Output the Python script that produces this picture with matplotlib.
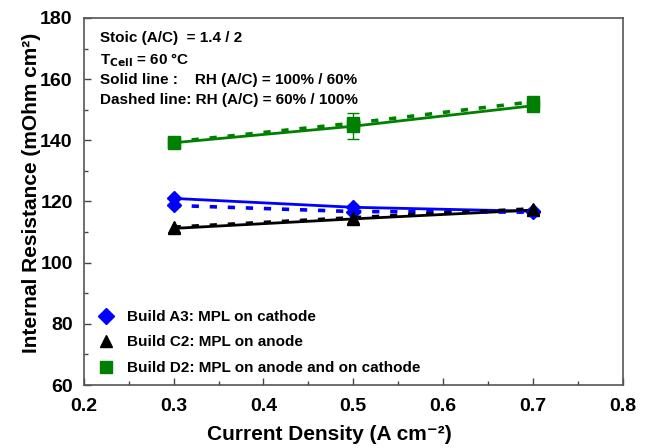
import matplotlib
matplotlib.use("Agg")
import matplotlib.pyplot as plt
from matplotlib.ticker import MultipleLocator
from matplotlib.lines import Line2D

plt.rcParams['font.family'] = ['Liberation Sans', 'DejaVu Sans']
plt.rcParams['font.weight'] = 'bold'

# current density (A cm-2)
current = [0.3, 0.5, 0.7]

# internal resistance (mOhm cm2), solid = RH 100/60, dashed = RH 60/100
a3_solid = [121.0, 118.1, 116.8]
a3_dashed = [118.7, 116.7, 116.5]
c2_solid = [111.2, 114.3, 117.2]
c2_dashed = [111.6, 114.7, 117.6]
d2_solid = [139.2, 144.6, 151.3]
d2_dashed = [139.5, 145.6, 152.6]
d2_err = [0.0, 4.2, 0.0]

labels = ["Build A3: MPL on cathode",
          "Build C2: MPL on anode",
          "Build D2: MPL on anode and on cathode"]

fig = plt.figure(figsize=(6.5, 4.48), dpi=100)
ax = fig.add_axes([0.129, 0.1406, 0.829, 0.8194])

blue = '#0000ff'
green = '#008000'

# solid lines
ax.plot(current, a3_solid, '-', color=blue, lw=2, marker='D', ms=7)
ax.plot(current, c2_solid, '-', color='black', lw=2, marker='^', ms=8)
ax.errorbar(current, d2_solid, yerr=d2_err, fmt='-s', color=green, lw=2,
            ms=9, capsize=4, elinewidth=1)

# dashed lines
ax.plot(current, a3_dashed, '--', color=blue, lw=2.6, dashes=(2, 3), marker='D', ms=7)
ax.plot(current, c2_dashed, '--', color='black', lw=2.6, dashes=(2, 3), marker='^', ms=8)
ax.plot(current, d2_dashed, '--', color=green, lw=2.6, dashes=(2, 3), marker='s', ms=9)

ax.set_xlim(0.2, 0.8)
ax.set_ylim(60, 180)
ax.xaxis.set_major_locator(MultipleLocator(0.1))
ax.xaxis.set_minor_locator(MultipleLocator(0.05))
ax.yaxis.set_major_locator(MultipleLocator(20))
ax.yaxis.set_minor_locator(MultipleLocator(10))
ax.tick_params(which='both', direction='in', top=False, right=False,
               labelsize=14, width=1, color='#444444')
ax.tick_params(which='major', length=5)
ax.tick_params(which='minor', length=3)
ax.tick_params(axis='x', which='major', pad=9)
ax.tick_params(axis='y', which='major', pad=8)
for s in ax.spines.values():
    s.set_color('#555555')
    s.set_linewidth(1.2)
for lab in ax.get_xticklabels() + ax.get_yticklabels():
    lab.set_fontweight('bold')

ax.set_xlabel("Current Density (A cm⁻²)", fontsize=15, fontweight='bold')
ax.xaxis.set_label_coords(0.455, -0.108)
ax.set_ylabel("Internal Resistance (mOhm cm²)", fontsize=15, fontweight='bold')
ax.yaxis.set_label_coords(-0.08, 0.523)

# conditions block
ax.text(0.03, 0.965, "Stoic (A/C)  = 1.4 / 2", transform=ax.transAxes, fontsize=11, fontweight='bold', va='top')
ax.text(0.03, 0.91, r"T$_{\mathbf{Cell}}$ = 60 °C", transform=ax.transAxes, fontsize=11, fontweight='bold', va='top')
ax.text(0.03, 0.85, "Solid line :    RH (A/C) = 100% / 60%", transform=ax.transAxes, fontsize=11, fontweight='bold', va='top')
ax.text(0.03, 0.795, "Dashed line: RH (A/C) = 60% / 100%", transform=ax.transAxes, fontsize=11, fontweight='bold', va='top')

handles = [Line2D([], [], ls='none', marker='D', color=blue, ms=8),
           Line2D([], [], ls='none', marker='^', color='black', ms=9),
           Line2D([], [], ls='none', marker='s', color=green, ms=9)]
ax.legend(handles, labels, loc='lower left', frameon=False,
          prop={'weight': 'bold', 'size': 11}, handletextpad=0.6,
          labelspacing=0.75, bbox_to_anchor=(-0.005, -0.01), handlelength=1.5)

fig.savefig("out.png", dpi=100)
